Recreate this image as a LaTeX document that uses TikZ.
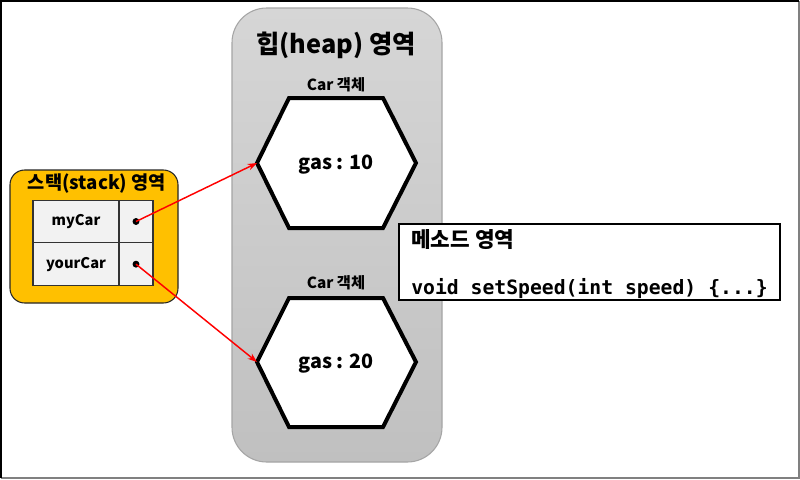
\documentclass[tikz,border=0pt]{standalone}
\usepackage{fontspec}
\setmainfont{Noto Sans CJK KR}
\setmonofont{DejaVu Sans Mono}
\usepackage{xcolor}
\usepackage{tikz}
\usetikzlibrary{positioning, arrows.meta}
\definecolor{StackOrange}{RGB}{255,192,0}
\definecolor{CellGray}{RGB}{242,242,242}
\definecolor{HeapTop}{RGB}{214,214,214}
\definecolor{HeapBottom}{RGB}{192,192,192}
\definecolor{HeapEdge}{RGB}{165,165,165}
\definecolor{FrameGray}{RGB}{128,128,128}
\tikzset{
  cell/.style={draw=black!80, line width=0.9pt, fill=CellGray, inner sep=0pt, outer sep=0pt,
    minimum height=32pt, font=\fontsize{11}{12}\selectfont\bfseries},
  objlabel/.style={font=\fontsize{11.5}{13}\selectfont\bfseries},
  objtext/.style={font=\fontsize{14.8}{17}\selectfont\bfseries},
  hexa/.style={draw=black, line width=3pt, fill=white, line join=miter},
  ref/.style={-{Stealth[length=7pt, width=5pt]}, red, line width=1.1pt}
}

\begin{document}
\begin{tikzpicture}[x=0.75pt, y=-0.75pt]
  \useasboundingbox (0,0) rectangle (800,479);
  \fill[white] (0,0) rectangle (800,479);
  % frame
  \draw[FrameGray, line width=1.5pt] (799,1) -- (799,478) -- (1,478);
  \draw[black, line width=1.5pt] (1,478) -- (1,1) -- (799,1);

  % heap area
  \node[draw=HeapEdge, line width=0.8pt, rounded corners=26pt, top color=HeapTop, bottom color=HeapBottom,
    minimum width=157.5pt, minimum height=340.5pt] (heap) at (337,235) {};
  \node[font=\fontsize{19}{22}\selectfont\bfseries] (heaptitle) at (336,45) {힙(heap) 영역};

  % first object
  \node[objlabel] (car1) at (336,85) {Car 객체};
  \draw[hexa] (257,163) coordinate (obj1w) -- (289,98) -- (383,98) -- (416,163) -- (383,228) -- (289,228) -- cycle;
  \node[objtext] (obj1) at (336,165) {gas : 10};

  % second object
  \node[objlabel] (car2) at (336,283) {Car 객체};
  \draw[hexa] (257,362) coordinate (obj2w) -- (289,298) -- (383,298) -- (416,362) -- (383,427) -- (289,427) -- cycle;
  \node[objtext] (obj2) at (336,364) {gas : 20};

  % method area
  \node[draw=black, line width=1.5pt, fill=white, minimum width=285.75pt, minimum height=57pt] (method) at (589.5,262) {};
  \node[anchor=west, font=\fontsize{16}{18}\selectfont\bfseries, inner sep=0pt] (mtitle) at (411,240) {메소드 영역};
  \node[anchor=west, font=\fontsize{14.8}{16}\selectfont\ttfamily\bfseries, inner sep=0pt] (mcode) at (411,289)
    {void setSpeed(int speed) \{...\}};

  % stack area
  \node[draw=black!85, line width=0.8pt, rounded corners=11pt, fill=StackOrange,
    minimum width=126pt, minimum height=99.75pt] (stack) at (94,236.5) {};
  \node[font=\fontsize{14}{16}\selectfont\bfseries] (stacktitle) at (97,184) {스택(stack) 영역};
  \node[cell, minimum width=64.5pt] (mycar) at (76,221.5) {myCar};
  \node[cell, minimum width=25.5pt, right=0pt of mycar] (mycarp) {};
  \node[cell, minimum width=64.5pt, below=0pt of mycar] (yourcar) {yourCar};
  \node[cell, minimum width=25.5pt, right=0pt of yourcar] (yourcarp) {};
  \fill (mycarp.center) circle (2.6pt);
  \fill (yourcarp.center) circle (2.6pt);

  % references
  \draw[ref] (mycarp.center) -- (obj1w);
  \draw[ref] (yourcarp.center) -- (obj2w);
\end{tikzpicture}
\end{document}
